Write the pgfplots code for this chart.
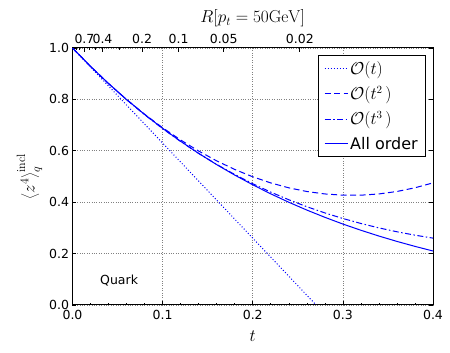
\documentclass[border=0pt]{standalone}
\usepackage[no-math]{fontspec}
\setmainfont{DejaVu Sans}
\usepackage{pgfplots}
\pgfplotsset{compat=1.18}
\begin{document}
\begin{tikzpicture}
\useasboundingbox (-72.5pt,-48pt) rectangle (377.5pt,305pt);
\begin{axis}[
  at={(0,0)}, anchor=south west,
  scale only axis, width=360.5pt, height=257pt,
  xmin=0, xmax=0.4, ymin=0, ymax=1,
  xtick={0,0.1,0.2,0.3,0.4}, xticklabels={0.0,0.1,0.2,0.3,0.4},
  ytick={0,0.2,0.4,0.6,0.8,1.0}, yticklabels={0.0,0.2,0.4,0.6,0.8,1.0},
  minor xtick={0.02,0.04,0.06,0.08,0.12,0.14,0.16,0.18,0.22,0.24,0.26,0.28,0.32,0.34,0.36,0.38},
  xtick pos=left, ytick pos=both, tick align=inside,
  major tick length=4pt, minor tick length=2pt,
  tick style={black, line width=0.6pt},
  grid=major, major grid style={gray, dotted, line width=0.6pt},
  axis line style={black, line width=1pt},
  tick label style={font=\fontsize{12.5}{14}\selectfont},
  xticklabel style={yshift=-1.5pt},
  label style={font=\fontsize{17}{20}\selectfont},
  xlabel={$t$}, xlabel style={yshift=-5pt},
  ylabel={$\left\langle z^4\right\rangle_q^{\mathrm{incl}}$},
  legend style={at={(axis description cs:0.981,0.973)}, anchor=north east,
    font=\fontsize{16}{19}\selectfont, line width=0.8pt, draw=black,
    row sep=6.5pt, inner xsep=6pt, inner ysep=4pt,
    /tikz/every even column/.append style={column sep=6pt}},
  legend cell align=left,
  legend image code/.code={\draw[line width=1pt,#1,draw=blue] (0pt,0pt) -- (23pt,0pt);},
]
\addplot[blue, line width=1pt, dash pattern=on 1pt off 2pt] coordinates {(0,1) (0.2703,0)};
\addlegendentry{$\mathcal{O}(t)$}
\addplot[blue, line width=1pt, dash pattern=on 6pt off 3.5pt] coordinates {
(0,1) (0.02,0.9284) (0.04,0.8616) (0.06,0.7995) (0.08,0.7422) (0.10,0.6897)
(0.12,0.6420) (0.14,0.5990) (0.16,0.5608) (0.18,0.5274) (0.20,0.4988)
(0.22,0.4750) (0.24,0.4559) (0.26,0.4416) (0.28,0.4321) (0.30,0.4273)
(0.32,0.4273) (0.34,0.4321) (0.36,0.4417) (0.38,0.4561) (0.40,0.4752)};
\addlegendentry{$\mathcal{O}(t^{2}\,)$}
\addplot[blue, line width=1pt, dash pattern=on 6pt off 2.5pt on 1.5pt off 2.5pt] coordinates {
(0,1) (0.02,0.9284) (0.04,0.8614) (0.06,0.7988) (0.08,0.7405) (0.10,0.6863)
(0.12,0.6362) (0.14,0.5898) (0.16,0.5470) (0.18,0.5078) (0.20,0.4719)
(0.22,0.4392) (0.24,0.4095) (0.26,0.3825) (0.28,0.3583) (0.30,0.3366)
(0.32,0.3172) (0.34,0.3000) (0.36,0.2849) (0.38,0.2717) (0.40,0.2602)};
\addlegendentry{$\mathcal{O}(t^{3}\,)$}
\addplot[blue, line width=1pt] coordinates {
(0,1) (0.02,0.9285) (0.04,0.8617) (0.06,0.7995) (0.08,0.7414) (0.10,0.6873)
(0.12,0.6369) (0.14,0.5899) (0.16,0.5462) (0.18,0.5055) (0.20,0.4677)
(0.22,0.4325) (0.24,0.3998) (0.26,0.3694) (0.28,0.3412) (0.30,0.3150)
(0.32,0.2908) (0.34,0.2683) (0.36,0.2474) (0.38,0.2281) (0.40,0.2101)};
\addlegendentry{All order}
\node[font=\fontsize{12.5}{14}\selectfont] at (axis cs:0.0517,0.097) {Quark};
\end{axis}
\begin{axis}[
  at={(0,0)}, anchor=south west,
  scale only axis, width=360.5pt, height=257pt,
  xmin=0, xmax=0.4, ymin=0, ymax=1,
  axis x line*=top, axis y line=none,
  xtick={0.0133,0.0333,0.0772,0.1178,0.1678,0.2522},
  xticklabels={0.7,0.4,0.2,0.1,0.05,0.02},
  minor xtick={0.004,0.008,0.0188,0.0253,0.0515},
  tick align=inside, major tick length=4pt, minor tick length=2pt,
  tick style={black, line width=0.6pt},
  axis line style={black, line width=1pt},
  tick label style={font=\fontsize{12.5}{14}\selectfont},
  xticklabel style={yshift=1pt},
  label style={font=\fontsize{17}{20}\selectfont},
  xlabel={$R[p_t=50\mathrm{GeV}]$},
]
\end{axis}
\end{tikzpicture}
\end{document}
